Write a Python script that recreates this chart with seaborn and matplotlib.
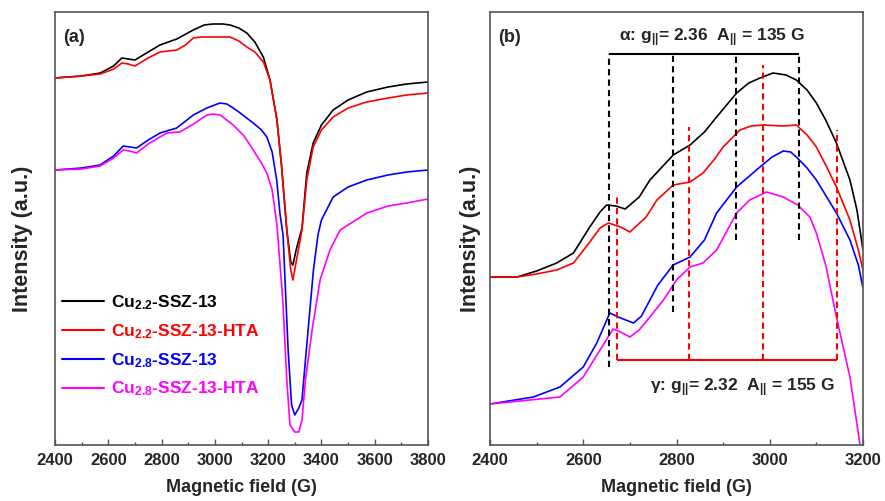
import numpy as np
import pandas as pd
import matplotlib
matplotlib.use("Agg")
import matplotlib.pyplot as plt
import seaborn as sns
from matplotlib.lines import Line2D
from matplotlib.ticker import MultipleLocator

sns.set_style("white")
plt.rcParams['font.family'] = ['Liberation Sans', 'DejaVu Sans']
plt.rcParams['font.weight'] = 'bold'
plt.rcParams['mathtext.fontset'] = 'custom'
plt.rcParams['mathtext.rm'] = 'Liberation Sans:bold'
plt.rcParams['mathtext.it'] = 'Liberation Sans:bold'
plt.rcParams['mathtext.bf'] = 'Liberation Sans:bold'
plt.rcParams['mathtext.default'] = 'rm'

# ---------------- data (intensity in arbitrary units) ----------------
series_names = ["Cu2.2-SSZ-13", "Cu2.2-SSZ-13-HTA", "Cu2.8-SSZ-13", "Cu2.8-SSZ-13-HTA"]
legend_labels = [r"Cu$_{2.2}$-SSZ-13", r"Cu$_{2.2}$-SSZ-13-HTA",
                 r"Cu$_{2.8}$-SSZ-13", r"Cu$_{2.8}$-SSZ-13-HTA"]
colors = ["#000000", "#ff0000", "#0000ff", "#ff00ff"]

# panel (a)
a_black_B = [2400, 2500, 2570, 2620, 2651, 2675, 2700, 2750, 2794, 2857, 2919, 2960, 2993, 3030, 3057, 3090,
             3120, 3150, 3182, 3207, 3233, 3250, 3270, 3285, 3293, 3305, 3327, 3345, 3369, 3400, 3444, 3500,
             3570, 3650, 3720, 3800]
a_black_I = [367, 369, 372, 379, 387, 386, 385, 393, 400, 406, 415, 420, 421, 421, 420, 417,
             412, 403, 388, 365, 325, 280, 215, 183, 180, 195, 217, 272, 302, 320, 335, 345,
             353, 358, 361, 363]
a_red_B = [2400, 2500, 2570, 2620, 2651, 2675, 2700, 2750, 2794, 2857, 2890, 2919, 2950, 2993, 3030, 3057,
           3090, 3120, 3150, 3182, 3207, 3233, 3250, 3270, 3285, 3293, 3303, 3327, 3345, 3369, 3400, 3444,
           3500, 3570, 3650, 3720, 3800]
a_red_I = [367, 369, 371, 376, 382, 381, 379, 387, 393, 395, 400, 407, 408, 408, 408, 408,
           404, 398, 393, 383, 365, 325, 280, 215, 175, 165, 180, 215, 265, 298, 315, 328,
           337, 343, 347, 350, 352]
a_blue_B = [2400, 2500, 2569, 2620, 2656, 2680, 2706, 2750, 2794, 2857, 2919, 2970, 3019, 3045, 3069, 3100,
            3144, 3175, 3195, 3215, 3232, 3245, 3256, 3265, 3275, 3288, 3300, 3315, 3327, 3340, 3350, 3370,
            3387, 3400, 3444, 3500, 3570, 3650, 3720, 3800]
a_blue_I = [275, 277, 280, 289, 299, 298, 297, 305, 312, 317, 330, 337, 342, 341, 337, 331,
            322, 315, 308, 293, 265, 230, 210, 155, 95, 40, 30, 37, 45, 85, 115, 175,
            210, 225, 248, 258, 265, 270, 273, 275]
a_mag_B = [2400, 2500, 2569, 2620, 2656, 2680, 2706, 2750, 2794, 2820, 2869, 2920, 2970, 2993, 3020, 3069,
           3110, 3144, 3175, 3195, 3215, 3233, 3255, 3270, 3282, 3300, 3315, 3327, 3340, 3365, 3395, 3432,
           3470, 3571, 3650, 3720, 3800]
a_mag_I = [275, 276, 279, 287, 295, 294, 292, 301, 308, 312, 313, 321, 330, 331, 330, 320,
           309, 295, 282, 272, 255, 220, 145, 65, 20, 13, 13, 25, 65, 115, 165, 195,
           215, 232, 239, 242, 246]

# panel (b)
b_black_B = [2400, 2458, 2500, 2543, 2579, 2614, 2636, 2650, 2670, 2690, 2720, 2743, 2793, 2829, 2860, 2886,
             2929, 2955, 2979, 3007, 3035, 3057, 3080, 3100, 3120, 3143, 3172, 3187, 3200]
b_black_I = [168, 168, 174, 182, 192, 218, 233, 240, 239, 236, 248, 265, 290, 300, 313, 328,
             352, 362, 367, 372, 370, 365, 355, 342, 325, 302, 265, 235, 195]
b_red_B = [2400, 2458, 2500, 2543, 2579, 2614, 2636, 2654, 2680, 2700, 2735, 2758, 2793, 2829, 2857, 2880,
           2900, 2936, 2960, 2986, 3029, 3057, 3080, 3100, 3120, 3143, 3172, 3190, 3200]
b_red_I = [168, 168, 171, 175, 182, 203, 217, 222, 218, 213, 228, 245, 260, 263, 272, 285,
           298, 315, 319, 320, 319, 320, 310, 298, 280, 258, 225, 195, 175]
b_blue_B = [2400, 2493, 2550, 2600, 2629, 2657, 2680, 2708, 2725, 2743, 2760, 2793, 2829, 2860, 2886, 2929,
            2979, 3005, 3029, 3045, 3057, 3080, 3100, 3143, 3172, 3190, 3200]
b_blue_I = [41, 48, 58, 78, 102, 132, 127, 122, 129, 145, 160, 180, 188, 205, 232, 258,
            278, 288, 294, 293, 288, 277, 265, 232, 205, 180, 157]
b_mag_B = [2400, 2550, 2600, 2636, 2664, 2680, 2700, 2720, 2743, 2772, 2800, 2829, 2857, 2886, 2929, 2957,
           2993, 3029, 3060, 3086, 3100, 3120, 3143, 3172, 3193, 3200]
b_mag_I = [41, 48, 68, 95, 116, 113, 108, 115, 128, 145, 165, 178, 182, 195, 232, 245,
           253, 248, 240, 228, 212, 180, 128, 68, 2, -20]

# hyperfine markers in panel (b)
alpha_B = [2655, 2793, 2928, 3063]
alpha_low = [78, 133, 205, 205]
alpha_top = 391
gamma_B = [2672, 2827, 2986, 3144]
gamma_high = [248, 318, 380, 315]
gamma_base = 85

xticks_a = [2400, 2600, 2800, 3000, 3200, 3400, 3600, 3800]
xticks_b = [2400, 2600, 2800, 3000, 3200]


def long_df(pairs):
    frames = []
    for name, (B, I) in zip(series_names, pairs):
        frames.append(pd.DataFrame({"B": B, "I": I, "sample": name}))
    return pd.concat(frames, ignore_index=True)


df_a = long_df([(a_black_B, a_black_I), (a_red_B, a_red_I), (a_blue_B, a_blue_I), (a_mag_B, a_mag_I)])
df_b = long_df([(b_black_B, b_black_I), (b_red_B, b_red_I), (b_blue_B, b_blue_I), (b_mag_B, b_mag_I)])

fig = plt.figure(figsize=(8.85, 5.01), dpi=100)
axa = fig.add_axes([55 / 885, 1 - 445 / 501, 373 / 885, 433 / 501])
axb = fig.add_axes([490 / 885, 1 - 445 / 501, 373 / 885, 433 / 501])

pal = dict(zip(series_names, colors))
for ax, df in [(axa, df_a), (axb, df_b)]:
    sns.lineplot(data=df, x="B", y="I", hue="sample", palette=pal, sort=False,
                 estimator=None, units="sample", legend=False, linewidth=1.2, ax=ax)

axa.set_xlim(2400, 3800)
axb.set_xlim(2400, 3200)
for ax, ticks, lx in [(axa, xticks_a, -0.060), (axb, xticks_b, -0.025)]:
    ax.set_ylim(0, 433)
    ax.set_xticks(ticks)
    ax.set_xticklabels([str(t) for t in ticks], fontsize=12, fontweight='bold')
    ax.xaxis.set_minor_locator(MultipleLocator(100))
    ax.set_yticks([])
    ax.tick_params(axis='x', which='both', bottom=True, top=False)
    ax.tick_params(axis='x', which='major', direction='in', length=4, width=1, color='#555555', pad=6)
    ax.tick_params(axis='x', which='minor', direction='in', length=2.5, width=1, color='#555555')
    ax.set_xlabel("Magnetic field (G)", fontsize=13, fontweight='bold', labelpad=8)
    ax.set_ylabel("Intensity (a.u.)", fontsize=15.5, fontweight='bold')
    ax.yaxis.set_label_coords(lx, 0.477)
    for s in ax.spines.values():
        s.set_color('#555555')
        s.set_linewidth(1.2)

axa.text(0.022, 0.96, "(a)", transform=axa.transAxes, fontsize=13, fontweight='bold', va='top', ha='left')
axb.text(0.022, 0.96, "(b)", transform=axb.transAxes, fontsize=13, fontweight='bold', va='top', ha='left')

handles = [Line2D([], [], color=c, linewidth=1.5) for c in colors]
leg = axa.legend(handles, legend_labels, loc='upper left', bbox_to_anchor=(0.02, 0.35),
                 frameon=False, fontsize=12.5, handlelength=2.4, handletextpad=0.4,
                 labelspacing=0.58, borderpad=0, borderaxespad=0)
for t, c in zip(leg.get_texts(), colors):
    t.set_color(c)

# annotations in (b)
axb.vlines(alpha_B, alpha_low, alpha_top, colors='black', linestyles=(0, (3, 2)), linewidth=1.5)
axb.hlines(alpha_top, alpha_B[0], alpha_B[-1], colors='black', linewidth=1.5)
axb.vlines(gamma_B, gamma_base, gamma_high, colors='red', linestyles=(0, (3, 2)), linewidth=1.5)
axb.hlines(gamma_base, gamma_B[0], gamma_B[-1], colors='red', linewidth=1.5)
axb.text(2876, 407, r"α: g$_{||}$= 2.36  A$_{||}$ = 135 G", fontsize=12.5, fontweight='bold',
         ha='center', va='center')
axb.text(2941, 57, r"γ: g$_{||}$= 2.32  A$_{||}$ = 155 G", fontsize=12.5, fontweight='bold',
         ha='center', va='center')

fig.savefig("out.png", dpi=100)
